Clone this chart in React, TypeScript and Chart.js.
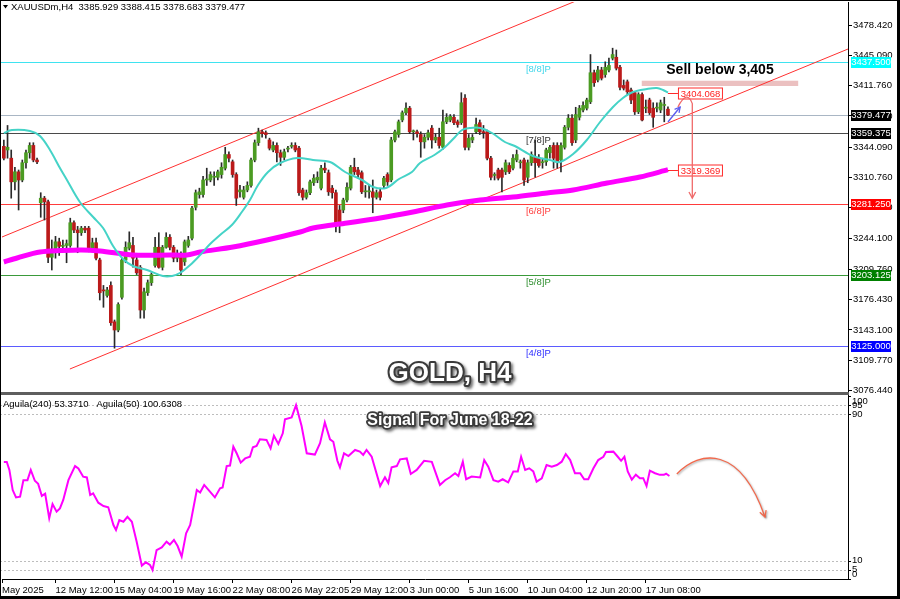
import React, { useEffect, useRef } from "react";
import { Chart, registerables } from "chart.js";
Chart.register(...registerables);

// ---------- DATA ----------
const symbolHeader = "XAUUSDm,H4  3385.929 3388.415 3378.683 3379.477";
const indicatorHeader = "Aguila(240) 53.3710   Aguila(50) 100.6308";
const titleText = "GOLD, H4";
const subtitleText = "Signal For June 18-22";
const sellText = "Sell below 3,405";

const xTickIdx = [-0.5, 14, 30, 46, 62, 78, 94, 110, 126, 142, 158, 174];
const xTickLabels = ["May 2025", "12 May 12:00", "15 May 04:00", "19 May 16:00", "22 May 08:00", "26 May 22:05", "29 May 12:00", "3 Jun 00:00", "5 Jun 16:00", "10 Jun 04:00", "12 Jun 20:00", "17 Jun 08:00"];
const priceTicks = [3478.42, 3445.09, 3411.76, 3378.43, 3344.09, 3310.76, 3277.43, 3244.1, 3209.76, 3176.43, 3143.1, 3109.77, 3076.44];
const indTicks = [100, 95, 90, 10, 5, 0];
const indLevels = [95, 90, 10, 5];

const openP = [
  3345,3341,3332,3306,3317,3308,3327,3338,3346,3330,
  3283,3288,3284,3223,3231,3240,3235,3236,3236,3261,
  3253,3250,3255,3255,3231,3239,3220,3187,3181,3192,
  3152,3143,3179,3220,3233,3236,3220,3212,3165,3184,
  3195,3214,3234,3212,3234,3245,3234,3222,3223,3218,
  3236,3244,3278,3292,3292,3308,3308,3311,3311,3314,
  3321,3336,3328,3314,3295,3289,3297,3302,3330,3349,
  3361,3360,3352,3341,3346,3338,3333,3342,3345,3346,
  3343,3297,3289,3294,3305,3308,3299,3321,3316,3299,
  3294,3275,3275,3286,3299,3322,3319,3316,3295,3295,
  3295,3289,3295,3302,3314,3308,3352,3358,3374,3382,
  3387,3361,3361,3358,3350,3355,3365,3352,3355,3344,
  3372,3374,3377,3372,3371,3398,3344,3352,3361,3371,
  3361,3361,3332,3313,3319,3319,3317,3324,3321,3330,
  3327,3330,3311,3327,3333,3332,3327,3328,3338,3346,
  3346,3330,3344,3366,3376,3352,3377,3385,3387,3394,
  3426,3418,3429,3424,3429,3442,3443,3432,3412,3416,
  3407,3404,3383,3402,3387,3396,3387,3387,3385,3390,
  3385.929,
];
const highP = [
  3352,3368,3341,3322,3319,3330,3341,3349,3349,3332,
  3294,3290,3286,3242,3246,3244,3242,3242,3266,3263,
  3257,3257,3257,3257,3244,3244,3222,3192,3190,3196,
  3154,3173,3222,3240,3251,3245,3226,3214,3189,3198,
  3206,3245,3250,3236,3250,3248,3236,3231,3229,3242,
  3246,3279,3297,3299,3312,3321,3317,3317,3319,3327,
  3344,3339,3330,3316,3302,3301,3306,3332,3352,3365,
  3363,3362,3354,3350,3349,3341,3342,3345,3349,3349,
  3345,3299,3297,3308,3314,3317,3324,3327,3319,3302,
  3297,3280,3288,3305,3324,3332,3322,3318,3302,3302,
  3308,3297,3299,3312,3316,3355,3363,3374,3384,3393,
  3389,3363,3363,3361,3358,3363,3368,3359,3365,3385,
  3381,3380,3380,3374,3404,3402,3358,3358,3376,3374,
  3368,3363,3334,3316,3321,3321,3330,3327,3336,3341,
  3330,3332,3330,3339,3352,3336,3332,3343,3346,3349,
  3349,3349,3368,3380,3380,3388,3390,3394,3398,3446,
  3429,3433,3432,3438,3442,3453,3451,3434,3418,3418,
  3409,3405,3404,3404,3396,3398,3393,3393,3396,3399,
  3388.415,
];
const lowP = [
  3330,3332,3288,3297,3275,3306,3321,3332,3328,3326,
  3267,3264,3217,3209,3222,3225,3231,3217,3234,3250,
  3228,3247,3250,3229,3229,3220,3176,3168,3179,3148,
  3123,3141,3177,3217,3231,3212,3204,3156,3156,3181,
  3192,3212,3211,3209,3233,3231,3218,3218,3204,3214,
  3234,3242,3275,3288,3289,3302,3306,3302,3308,3310,
  3319,3328,3311,3280,3289,3287,3295,3300,3328,3346,
  3355,3354,3341,3339,3328,3324,3330,3339,3343,3339,
  3291,3286,3287,3292,3302,3305,3297,3316,3291,3288,
  3251,3250,3272,3284,3297,3314,3310,3293,3289,3288,
  3272,3287,3286,3299,3302,3306,3350,3355,3372,3380,
  3359,3352,3355,3333,3343,3352,3343,3349,3343,3342,
  3370,3372,3369,3366,3369,3341,3341,3349,3359,3358,
  3354,3330,3308,3308,3308,3295,3314,3315,3319,3328,
  3321,3302,3305,3324,3311,3322,3321,3324,3332,3321,
  3321,3317,3342,3363,3346,3349,3374,3383,3385,3392,
  3411,3416,3418,3421,3427,3440,3429,3407,3407,3402,
  3392,3380,3381,3373,3382,3380,3366,3383,3382,3372,
  3378.683,
];
const closeP = [
  3332,3344,3306,3317,3308,3327,3338,3346,3330,3328,
  3288,3284,3223,3231,3240,3235,3236,3238,3261,3253,
  3250,3255,3253,3231,3239,3222,3184,3186,3187,3151,
  3143,3171,3220,3234,3239,3222,3206,3165,3185,3195,
  3204,3234,3212,3234,3245,3234,3222,3223,3209,3240,
  3242,3277,3294,3295,3308,3309,3314,3312,3317,3322,
  3336,3332,3314,3288,3297,3297,3302,3330,3349,3361,
  3359,3358,3343,3346,3338,3333,3339,3343,3346,3341,
  3294,3289,3294,3306,3310,3311,3321,3319,3295,3294,
  3258,3261,3286,3300,3322,3317,3314,3295,3296,3296,
  3289,3294,3289,3310,3306,3352,3361,3372,3382,3387,
  3361,3362,3359,3350,3355,3360,3352,3355,3346,3372,
  3377,3378,3371,3369,3393,3344,3354,3355,3369,3361,
  3360,3332,3311,3314,3310,3311,3327,3317,3332,3336,
  3328,3308,3327,3336,3327,3324,3328,3341,3344,3332,
  3328,3346,3366,3376,3349,3380,3387,3390,3396,3426,
  3415,3429,3420,3432,3434,3446,3431,3410,3409,3405,
  3396,3383,3402,3374,3388,3382,3377,3388,3393,3391,
  3379.477,
];

// Fast moving average (cyan), sampled [bar index, price]
const maFast: [number, number][] = [
  [0,3359.7],[2.2,3363],[7.1,3362],[9.8,3356.4],[12.5,3341],[15.2,3321.2],[17.1,3308],[20.6,3283.8],
  [24.2,3267.3],[26.9,3255.2],[29.6,3235.4],[32.3,3221.1],[35,3213.4],[38.8,3209],[43.1,3202.4],[45.6,3202.4],
  [47.7,3205.7],[50.5,3214.5],[53.2,3225.5],[55.9,3237.6],[58.6,3247.5],[61.8,3258.5],[64.5,3272.8],[66.7,3286],
  [68.9,3302.5],[71.6,3316.8],[74.9,3326.7],[79.5,3332.2],[83.8,3330],[88.4,3327.8],[92.5,3316.8],[97.1,3308],
  [100.1,3300.3],[103.6,3299.2],[107.1,3309.1],[110.6,3316.8],[112.8,3326.7],[116.7,3335.5],[119.6,3344.3],[122.3,3355.3],
  [124.2,3363],[126.4,3365.2],[129.1,3365.2],[132.3,3359.7],[135.8,3349.8],[138.5,3345.4],[143.4,3334.4],[148,3330],
  [150.7,3327.8],[154.3,3336.6],[158,3352],[161.6,3371.8],[165.1,3388.3],[167.8,3398.2],[170.5,3404.8],[174.3,3408.1],
  [177,3409.2],[178.7,3407],[180,3404.068],
];
// Slow moving average (magenta), sampled [bar index, price]
const maSlow: [number, number][] = [
  [0,3217.8],[3.6,3222.2],[9.8,3228.8],[20.6,3231],[26.1,3229.9],[35,3225.5],[45,3225.5],[49.6,3225.5],
  [53.2,3228.8],[62.1,3234.3],[71.3,3242],[80.3,3250.8],[83.8,3255.2],[93,3260.7],[102,3266.2],[110.9,3272.8],
  [120.1,3280.5],[129.1,3286],[138,3289.3],[147.2,3293.7],[154.3,3297],[163.5,3304.7],[172.4,3311.3],[180,3319.369],
];
// Aguila oscillator, sampled [bar index, value]
const aguila: [number, number][] = [
  [0,64],[0.8,64],[1.5,59.6],[2.4,48.6],[3.3,44.6],[4.4,45],[5.3,54],[6.4,54],[7.3,59.6],[8.4,53.7],[9.3,52],
  [10.3,45.4],[11.2,46.6],[12.3,33.2],[13.2,41],[14.3,36.8],[15.2,38.6],[16.1,43.2],[17.5,54],[19.3,61.7],[20.2,60.4],
  [21.5,55.9],[22.5,55.5],[23.4,45.9],[24.2,46.8],[25.6,41.7],[27,39.9],[28.3,39.2],[29.7,29.5],[30.4,26.8],[31.3,32.2],
  [32.4,31.3],[33.5,34],[34.7,31.3],[36,20.4],[37.4,7.3],[38.5,9.1],[39.6,7.7],[40.3,4.9],[41.4,15.8],[42.8,17.3],
  [44.1,20.4],[45,18.8],[46.1,21.3],[47.1,18],[48.2,12.2],[49.4,25],[50.5,29.5],[52.3,48.6],[53.2,47.3],[54.3,51.4],
  [55.4,48.8],[57.2,44.6],[58.6,49.6],[59.3,50],[60.4,61.7],[61.3,62],[62.2,72.3],[63.1,68.7],[64.2,63.6],[65.4,65.9],
  [66.7,66.8],[67.5,72],[68.5,72.7],[69.4,76.3],[71.2,76],[72.3,71.4],[73.2,78.3],[74.4,73.8],[75.6,79.6],[76.2,87.3],
  [78,88.3],[79.2,95],[80.7,83.6],[82.1,68.7],[84.3,68],[85.7,74.2],[87,85.6],[88.4,76.3],[89.3,75],[90.4,64.6],
  [91.1,61],[92.2,68.7],[93.4,67.2],[95.2,70.5],[96.5,69.6],[97.4,67.8],[98.3,70.5],[99.7,66.8],[102,50.8],[103.3,55.6],
  [104.2,52.5],[105.1,61],[106.5,61.7],[107.4,65.4],[109.2,65.9],[110.3,57.4],[111.9,59.6],[113.9,64.6],[116,64],[118.2,51.4],
  [119.6,54],[120.9,55.6],[122.3,57.8],[123.2,56.3],[124.4,64.1],[125.3,54.5],[126.8,56],[129.1,55.5],[130.2,65],[131.3,61.4],
  [132.7,54],[134,53.2],[135.2,54.5],[136.7,52.8],[138.1,58.8],[139.3,58.8],[140.2,66.8],[141.3,59.6],[142.4,60.5],[143.5,58.8],
  [144.4,53.2],[145.8,55],[147.1,62.3],[148.5,61.4],[149.9,62.3],[151.2,64.1],[152.3,68.3],[153.5,65],[154.8,57.8],[156.2,57.8],
  [157.3,54.5],[158.4,54.5],[159.8,60.5],[161.1,65],[162.5,66.8],[163.2,69.4],[165.2,69.6],[166.4,66.8],[167.3,64.6],[168.2,66.8],
  [169.1,58.8],[170.2,54.3],[171.3,57],[172.4,55.1],[173.3,55.1],[174.2,50.8],[175.1,59.2],[176.5,57.8],[177.8,56.9],[178.9,56.9],
  [179.5,57.5],[180.4,56.3],
];

// Channel lines, [bar index, price] endpoints
const channelLower: [number, number][] = [[17.9, 3100.1], [229.3, 3452.9]];
const channelUpper: [number, number][] = [[-0.5, 3245.3], [160, 3513.2]];

// Murrey levels
const levelValues = [3437.5, 3379.477, 3359.375, 3281.25, 3203.125, 3125.0];
const levelTags = ["[8/8]P", "", "[7/8]P", "[6/8]P", "[5/8]P", "[4/8]P"];
const levelBoxes = ["3437.500", "3379.477", "3359.375", "3281.250", "3203.125", "3125.000"];

// Annotations (data space)
const sellZone = { x0: 172.9, x1: 215.3, p0: 3411.4, p1: 3417.2 };
const blueArrow: [number, number][] = [[180, 3371.8], [183.3, 3388.3]];
const redArrow: [number, number][] = [[182.7, 3388.3], [185.2, 3408], [186.6, 3392], [186.6, 3288]];
const indArrow: [number, number][] = [[182.4, 57.4], [188.7, 70.5], [199.5, 73.2], [206.3, 33.9]];
const endLabels = [
  { idx: 180, value: 3404.068, text: "3404.068" },
  { idx: 180, value: 3319.369, text: "3319.369" },
];

// ---------- STYLES ----------
const FONT = '"Liberation Sans", Arial, sans-serif';
const levelColors = ["#3fe3f0", "#a9b6c4", "#4a4a4a", "#ff3b3b", "#3a9a3a", "#5b5bff"];
const levelTagColors = ["#3fd6ea", "", "#333333", "#ff3b3b", "#2f8f2f", "#3030ff"];
const boxBg = ["#00ffff", "#000000", "#000000", "#ff0000", "#008000", "#0000ff"];

function arrowHead(ctx: CanvasRenderingContext2D, x0: number, y0: number, x1: number, y1: number, len: number) {
  const a = Math.atan2(y1 - y0, x1 - x0);
  ctx.beginPath();
  ctx.moveTo(x1 - len * Math.cos(a - 0.5), y1 - len * Math.sin(a - 0.5));
  ctx.lineTo(x1, y1);
  ctx.lineTo(x1 - len * Math.cos(a + 0.5), y1 - len * Math.sin(a + 0.5));
  ctx.stroke();
}

function zoneRect(x: any, y: any) {
  const zx0 = x.getPixelForValue(sellZone.x0), zx1 = x.getPixelForValue(sellZone.x1);
  const zy0 = y.getPixelForValue(sellZone.p1), zy1 = y.getPixelForValue(sellZone.p0);
  return { zx0, zx1, zy0, zy1 };
}

const noPad = (s: any) => { s.paddingTop = 0; s.paddingBottom = 0; s.paddingLeft = 0; s.paddingRight = 0; };

const overlay = {
  id: "overlay",
  beforeDatasetsDraw(chart: any) {
    const { ctx, chartArea: a, scales } = chart;
    const x = scales.x, y = scales.y, y2 = scales.y2;
    ctx.save();
    levelValues.forEach((v, k) => {
      const py = Math.round(y.getPixelForValue(v)) + 0.5;
      ctx.strokeStyle = levelColors[k];
      ctx.lineWidth = 1;
      ctx.beginPath();
      ctx.moveTo(0, py);
      ctx.lineTo(a.right, py);
      ctx.stroke();
    });
    const { zx0, zx1, zy0, zy1 } = zoneRect(x, y);
    ctx.fillStyle = "rgba(222,150,150,0.6)";
    ctx.fillRect(zx0, zy0, zx1 - zx0, zy1 - zy0);
    ctx.strokeStyle = "#bdbdbd";
    ctx.setLineDash([2, 2]);
    indLevels.forEach((v) => {
      const py = Math.round(y2.getPixelForValue(v)) + 0.5;
      ctx.beginPath();
      ctx.moveTo(0, py);
      ctx.lineTo(a.right, py);
      ctx.stroke();
    });
    ctx.setLineDash([]);
    ctx.restore();
  },
  afterDraw(chart: any) {
    const { ctx, chartArea: a, scales } = chart;
    const x = scales.x, y = scales.y, y2 = scales.y2;
    ctx.save();
    // pane separator
    ctx.fillStyle = "#ffffff";
    ctx.fillRect(0, 391, a.right, 4);
    ctx.fillStyle = "#5e5e5e";
    ctx.fillRect(0, 392, a.right + 1, 3);
    // level tags
    ctx.font = `9.5px ${FONT}`;
    ctx.textBaseline = "middle";
    ctx.textAlign = "left";
    levelValues.forEach((v, k) => {
      if (!levelTags[k]) return;
      ctx.fillStyle = levelTagColors[k];
      ctx.fillText(levelTags[k], x.getPixelForValue(141.5), y.getPixelForValue(v) + 7);
    });
    // right axis boxes
    ctx.textAlign = "center";
    levelValues.forEach((v, k) => {
      const py = y.getPixelForValue(v);
      ctx.fillStyle = boxBg[k];
      ctx.fillRect(a.right + 3, Math.round(py) - 5, 40, 11);
      ctx.fillStyle = "#ffffff";
      ctx.fillText(levelBoxes[k], a.right + 23, Math.round(py) + 0.5);
    });
    // end labels
    endLabels.forEach((l) => {
      const px = x.getPixelForValue(l.idx);
      const py = Math.round(y.getPixelForValue(l.value)) + 0.5;
      ctx.strokeStyle = "#ff2a2a";
      ctx.lineWidth = 1;
      ctx.beginPath();
      ctx.moveTo(px, py);
      ctx.lineTo(px + 10, py);
      ctx.stroke();
      ctx.fillStyle = "#fff";
      ctx.fillRect(px + 10.5, py - 5.5, 44, 11);
      ctx.strokeRect(px + 10.5, py - 5.5, 44, 11);
      ctx.fillStyle = "#ff2020";
      ctx.fillText(l.text, px + 32.5, py + 0.5);
    });
    // blue arrow
    ctx.strokeStyle = "#5b5bef";
    ctx.lineWidth = 1.3;
    const b0x = x.getPixelForValue(blueArrow[0][0]), b0y = y.getPixelForValue(blueArrow[0][1]);
    const b1x = x.getPixelForValue(blueArrow[1][0]), b1y = y.getPixelForValue(blueArrow[1][1]);
    ctx.beginPath(); ctx.moveTo(b0x, b0y); ctx.lineTo(b1x, b1y); ctx.stroke();
    arrowHead(ctx, b0x, b0y, b1x, b1y, 6);
    // red arrow
    ctx.strokeStyle = "#f06a6a";
    ctx.lineWidth = 1.3;
    const rp = redArrow.map(([i, p]) => [x.getPixelForValue(i), y.getPixelForValue(p)]);
    ctx.beginPath();
    ctx.moveTo(rp[0][0], rp[0][1]);
    ctx.quadraticCurveTo(rp[1][0], rp[1][1], rp[2][0], rp[2][1]);
    ctx.lineTo(rp[3][0], rp[3][1]);
    ctx.stroke();
    arrowHead(ctx, rp[2][0], rp[2][1], rp[3][0], rp[3][1], 7);
    // indicator curved arrow
    const ip = indArrow.map(([i, v]) => [x.getPixelForValue(i), y2.getPixelForValue(v)]);
    ctx.shadowColor = "rgba(0,0,0,0.35)";
    ctx.shadowBlur = 2;
    ctx.shadowOffsetX = 1;
    ctx.shadowOffsetY = 1;
    ctx.strokeStyle = "#f2674a";
    ctx.lineWidth = 1.3;
    ctx.beginPath();
    ctx.moveTo(ip[0][0], ip[0][1]);
    ctx.bezierCurveTo(ip[1][0], ip[1][1], ip[2][0], ip[2][1], ip[3][0], ip[3][1]);
    ctx.stroke();
    arrowHead(ctx, ip[2][0], ip[2][1], ip[3][0], ip[3][1], 7);
    ctx.shadowColor = "transparent";
    // sell text
    const { zx0, zx1, zy0 } = zoneRect(x, y);
    ctx.fillStyle = "#000";
    ctx.font = `bold 14px ${FONT}`;
    ctx.textAlign = "center";
    ctx.fillText(sellText, (zx0 + zx1) / 2, zy0 - 11);
    // headers
    ctx.font = `9.5px ${FONT}`;
    ctx.textAlign = "left";
    ctx.fillText(symbolHeader, 11, 7.5);
    ctx.fillText(indicatorHeader, 3, 404);
    ctx.beginPath();
    ctx.moveTo(3, 5); ctx.lineTo(8, 5); ctx.lineTo(5.5, 8.5); ctx.closePath(); ctx.fill();
    // indicator axis labels
    indTicks.forEach((v) => {
      const py = y2.getPixelForValue(v);
      const ty = Math.min(Math.max(py, 401), 574);
      ctx.fillStyle = "#000";
      ctx.fillRect(a.right, Math.round(py), 3, 1);
      ctx.fillText(String(v), a.right + 4, ty);
    });
    // big outlined titles
    const outlined = (t: string, cx: number, cy: number, size: number, lw: number) => {
      ctx.font = `bold ${size}px ${FONT}`;
      ctx.textAlign = "center";
      ctx.textBaseline = "middle";
      ctx.lineJoin = "round";
      ctx.shadowColor = "rgba(0,0,0,0.55)";
      ctx.shadowBlur = 3;
      ctx.shadowOffsetX = 2;
      ctx.shadowOffsetY = 2;
      ctx.strokeStyle = "#3a3a3a";
      ctx.lineWidth = lw;
      ctx.strokeText(t, cx, cy);
      ctx.shadowColor = "transparent";
      ctx.fillStyle = "#ffffff";
      ctx.fillText(t, cx, cy);
    };
    outlined(titleText, 450, 374, 26, 4);
    outlined(subtitleText, 450, 421, 16, 3.5);
    // outer frame
    ctx.fillStyle = "#000";
    ctx.fillRect(0, 0, 900, 1);
    ctx.fillRect(0, 0, 1, 599);
    ctx.fillRect(897, 0, 3, 599);
    ctx.fillRect(0, 596, 900, 3);
    ctx.restore();
  },
};

export default function App() {
  const ref = useRef<HTMLCanvasElement>(null);
  useEffect(() => {
    document.body.style.margin = "0";
    const idx = closeP.map((_, i) => i);
    const bodyColors = idx.map((i) => (closeP[i] >= openP[i] ? "#4b9b22" : "#bb1a1a"));
    const lineBase = { pointRadius: 0, pointHoverRadius: 0, pointBorderWidth: 0, pointHitRadius: 0 };
    const chart = new Chart(ref.current!, {
      type: "bar",
      data: {
        datasets: [
          {
            ...lineBase, type: "line", label: "upper", data: channelUpper.map(([i, p]) => ({ x: i, y: p })),
            borderColor: "#ff3030", borderWidth: 1, order: 6, yAxisID: "y",
          },
          {
            ...lineBase, type: "line", label: "lower", data: channelLower.map(([i, p]) => ({ x: i, y: p })),
            borderColor: "#ff3030", borderWidth: 1, order: 6, yAxisID: "y",
          },
          {
            type: "bar", label: "wick", data: idx.map((i) => ({ x: i, y: [lowP[i], highP[i]] })),
            backgroundColor: "#2a2a2a", barThickness: 1, grouped: false, order: 5, yAxisID: "y",
          },
          {
            type: "bar", label: "body", data: idx.map((i) => ({ x: i, y: [openP[i], closeP[i]] })),
            backgroundColor: bodyColors, borderColor: "#1a1a1a", borderWidth: 0, barThickness: 3,
            minBarLength: 1, grouped: false, order: 4, yAxisID: "y",
          },
          {
            ...lineBase, type: "line", label: "ma200", data: maSlow.map(([i, p]) => ({ x: i, y: p })),
            borderColor: "#ff00ff", borderWidth: 5, tension: 0.3, order: 3, yAxisID: "y",
          },
          {
            ...lineBase, type: "line", label: "ma21", data: maFast.map(([i, p]) => ({ x: i, y: p })),
            borderColor: "#45d3c7", borderWidth: 2, tension: 0.35, order: 2, yAxisID: "y",
          },
          {
            ...lineBase, type: "line", label: "aguila", data: aguila.map(([i, v]) => ({ x: i, y: v })),
            borderColor: "#ff00ff", borderWidth: 2, tension: 0, order: 1, yAxisID: "y2",
          },
        ] as any,
      },
      options: {
        responsive: false,
        animation: false,
        devicePixelRatio: 1,
        events: [],
        layout: { padding: { left: 2, top: 2, right: 0, bottom: 0 }, autoPadding: false } as any,
        plugins: { legend: { display: false }, tooltip: { enabled: false } },
        scales: {
          x: {
            type: "linear", min: -0.5, max: 228.8, position: "bottom", offset: false,
            afterBuildTicks: (s: any) => { s.ticks = xTickIdx.map((v) => ({ value: v })); },
            afterFit: (s: any) => { s.height = 20; noPad(s); },
            ticks: {
              autoSkip: false, maxRotation: 0, minRotation: 0, align: "start", padding: 2, color: "#000",
              font: { family: FONT, size: 9.5 },
              callback: (_v: any, i: number) => xTickLabels[i],
            },
            grid: { offset: false, drawOnChartArea: false, drawTicks: true, tickLength: 4, color: "#000" },
            border: { display: true, color: "#000" },
          },
          y: {
            type: "linear", position: "right", min: 2869.1, max: 3503.8,
            afterBuildTicks: (s: any) => { s.ticks = priceTicks.map((v) => ({ value: v })); },
            afterFit: (s: any) => { s.width = 52; noPad(s); },
            ticks: {
              autoSkip: false, padding: 1, color: "#000", font: { family: FONT, size: 9.5 },
              callback: (v: any) => Number(v).toFixed(3),
            },
            grid: { drawOnChartArea: false, drawTicks: true, tickLength: 4, color: "#000" },
            border: { display: true, color: "#000" },
          },
          y2: { type: "linear", display: false, min: 0, max: 315.3, afterFit: noPad },
        } as any,
      },
      plugins: [overlay],
    });
    return () => chart.destroy();
  }, []);
  return (
    <div style={{ width: 900, height: 599, background: "#fff" }}>
      <canvas ref={ref} width={900} height={599} style={{ display: "block" }} />
    </div>
  );
}
